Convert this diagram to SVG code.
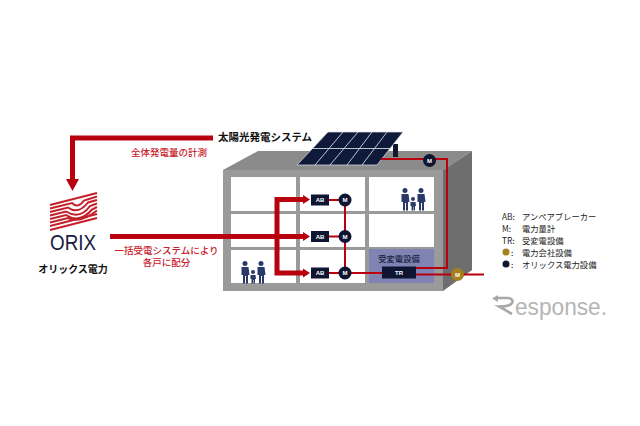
<svg xmlns="http://www.w3.org/2000/svg" width="640" height="426" viewBox="0 0 640 426">
<style>
.jp{font-family:"Noto Sans CJK JP","Liberation Sans",sans-serif}
.red{fill:#c8202c;font-size:9.500px;font-weight:500}
.lg{fill:#222;font-size:8.300px}
.bl{fill:#0d1533}
.mt{fill:#fff;font:bold 6px "Liberation Sans",sans-serif;text-anchor:middle}
.cell{fill:#fff}
.thick{fill:none;stroke:#b8000f;stroke-width:5}
.thin{fill:none;stroke:#b8000f;stroke-width:2}
.ppl{fill:#2a3a68}
.stripe{fill:none;stroke:#c4202a;stroke-width:2}
</style>
<defs>
<g id="family" class="ppl">
<circle cx="0" cy="2.500" r="2.500"/><path d="M-3.500 6h7l1 8h-1.500v8.500h-2v-7.500h-1v7.500h-2v-8.500h-1.500z"/>
<circle cx="16" cy="2.500" r="2.500"/><path d="M12.500 6h7l1 8h-1.500v8.500h-2v-7.500h-1v7.500h-2v-8.500h-1.500z"/>
<circle cx="8" cy="11" r="2"/><path d="M5.500 14h5l.5 4h-1v4.500h-1.500v-3.500h-.5v3.500h-1.500v-4.500h-1z"/>
</g>
<g id="ab"><rect x="-9" y="-5.500" width="18" height="11" class="bl"/><text y="2.200" class="mt">AB</text></g>
<g id="m"><circle r="6.500" class="bl"/><text y="2.200" class="mt">M</text></g>
</defs>
<rect width="640" height="426" fill="#fff"/>

<g id="building">
<polygon points="223,170 258,151 472,151 443,170" fill="#8b8b8b"/>
<polygon points="443,170 472,151 472,270 443,291" fill="#6e6e6e"/>
<rect x="223" y="170" width="220" height="121" fill="#9a9a9a"/>
<rect x="231" y="177" width="65" height="34" class="cell"/>
<rect x="300" y="177" width="65" height="34" class="cell"/>
<rect x="369" y="177" width="65" height="34" class="cell"/>
<rect x="231" y="214" width="65" height="33" class="cell"/>
<rect x="300" y="214" width="65" height="33" class="cell"/>
<rect x="369" y="214" width="65" height="33" class="cell"/>
<rect x="231" y="250" width="65" height="33" class="cell"/>
<rect x="300" y="250" width="65" height="33" class="cell"/>
<rect x="369" y="249" width="65" height="34" fill="#7f84b4"/>
<use href="#family" x="405" y="188"/>
<use href="#family" x="245" y="261"/>
</g>

<g id="solar-panel">
<rect x="393" y="144" width="5" height="13" fill="#10182e"/>
<polygon points="297,165 328,132 403,132 377,165" fill="#0f1a3a" stroke="#dfe3ea" stroke-width=".7"/>
<path d="M312 148.500L390 148.500M315 165L343 132M330 165L358 132M347 165L372 132M362 165L387 132" stroke="#cfd6e2" stroke-width=".9" fill="none"/>
</g>

<g id="connectors">
<path class="thick" d="M213 138H72.500V179"/>
<polygon points="66,179 79,179 72.500,191" fill="#b8000f"/>
<path class="thick" d="M110 236.500H303"/>
<path class="thick" d="M277 275.500V199.500H303M277 273H303"/>
<polygon points="303,195 303,204 310,199.500" fill="#b8000f"/>
<polygon points="303,232 303,241 310,236.500" fill="#b8000f"/>
<polygon points="303,268.500 303,277.500 310,273" fill="#b8000f"/>
<path class="thin" d="M329 200H345M329 236.500H345M329 273H345M345 200V273M345 273H383"/>
<path class="thin" d="M381 159H447V268H415"/>
<path class="thin" d="M415 274.500H484"/>
</g>

<g id="meter-top"><use href="#m" x="429.500" y="160.500"/></g>
<g id="ab-1"><use href="#ab" x="320" y="200"/></g>
<g id="ab-2"><use href="#ab" x="320" y="236.500"/></g>
<g id="ab-3"><use href="#ab" x="320" y="273"/></g>
<g id="meter-1"><use href="#m" x="345" y="200"/></g>
<g id="meter-2"><use href="#m" x="345" y="236.500"/></g>
<g id="meter-3"><use href="#m" x="345" y="273"/></g>
<g id="substation">
<text x="399" y="262" class="jp" font-size="8.300" font-weight="500" fill="#1a2340" text-anchor="middle">受変電設備</text>
<rect x="382" y="266.500" width="34" height="12" class="bl"/>
<text x="399" y="275" class="mt">TR</text>
</g>
<g id="meter-power"><circle cx="457.500" cy="274.500" r="6.500" fill="#a5801f"/><text x="457.500" y="276.700" class="mt">M</text></g>

<g id="orix">
<g class="stripe">
<path d="M50 205L97 193"/>
<path d="M50 208.500L72 203Q78 209 84 200.500L97 196.500"/>
<path d="M50 212L68 207.500Q78 215 88 202.500L97 200"/>
<path d="M50 215.500L66 211.500Q80 220 90 206L97 203.500"/>
<path d="M50 219L66 215Q80 224 92 209.500L97 207"/>
<path d="M50 222.500L68 218Q80 224 97 210.500"/>
<path d="M50 226L97 214"/>
<path d="M50 230L97 218"/>
</g>
<text x="73" y="250" font-family="Liberation Sans,sans-serif" font-size="22" fill="#15203e" text-anchor="middle" textLength="46" lengthAdjust="spacingAndGlyphs">ORIX</text>
<text x="73" y="273" class="jp" font-size="10" font-weight="700" fill="#111" text-anchor="middle">オリックス電力</text>
</g>

<g id="labels">
<text x="265" y="141" class="jp" font-size="10.500" font-weight="700" fill="#111" text-anchor="middle">太陽光発電システム</text>
<text x="169" y="155.500" class="jp red" text-anchor="middle">全体発電量の計測</text>
<text class="jp red" text-anchor="middle"><tspan x="166.500" y="254">一括受電システムにより</tspan><tspan x="166.500" y="266">各戸に配分</tspan></text>
</g>

<g id="legend" class="jp lg">
<text x="502" y="219.500">AB:<tspan x="522">アンペアブレーカー</tspan></text>
<text x="502" y="231.500">M:<tspan x="522">電力量計</tspan></text>
<text x="502" y="243.500">TR:<tspan x="522">受変電設備</tspan></text>
<circle cx="506" cy="252" r="3.500" fill="#a5801f"/><text x="511" y="255.500">:<tspan x="522">電力会社設備</tspan></text>
<circle cx="506" cy="264" r="3.500" fill="#0d1533"/><text x="511" y="267.500">:<tspan x="522">オリックス電力設備</tspan></text>
</g>

<g id="watermark">
<text x="515" y="315" font-family="Liberation Sans,sans-serif" font-size="23" fill="#b5b5b5" textLength="92" lengthAdjust="spacingAndGlyphs">esponse.</text>
<path d="M496 298H508Q514 299 512 303Q510 306.500 499 306.500L512 314" fill="none" stroke="#a8a8a8" stroke-width="2.600"/>
<polygon points="492,298.500 498,295 498,302" fill="#a8a8a8"/>
</g>
</svg>
